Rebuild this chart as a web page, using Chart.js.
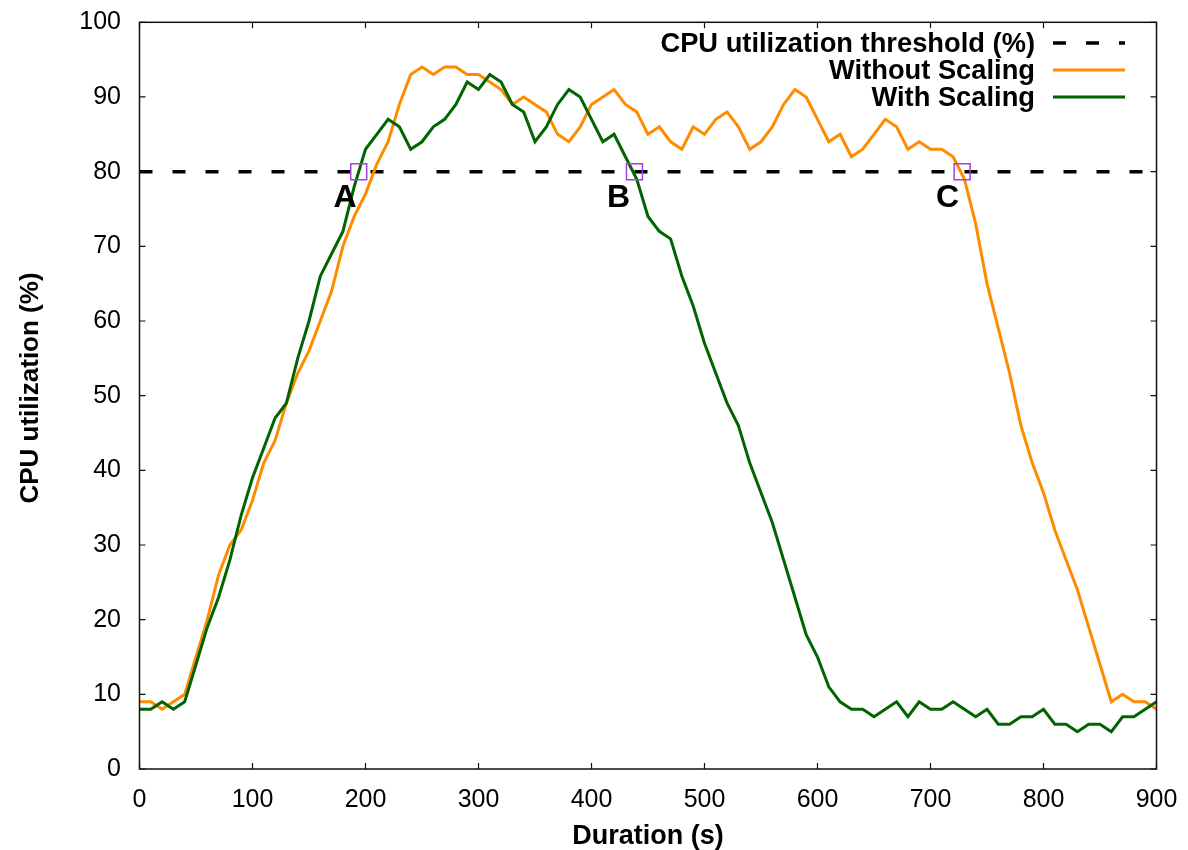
<!DOCTYPE html>
<html>
<head>
<meta charset="utf-8">
<title>CPU utilization</title>
<script src="https://cdn.jsdelivr.net/npm/chart.js@4.4.1/dist/chart.umd.min.js"></script>
<style>
  html, body { margin: 0; padding: 0; background: #fff; }
  canvas { display: block; }
</style>
</head>
<body>
<canvas id="cpuChart" width="1188" height="850"></canvas>
<script>
// sample times (s)
var durations = [0, 10, 20, 30, 40, 50, 60, 70, 80, 90,
    100, 110, 120, 130, 140, 150, 160, 170, 180, 190,
    200, 210, 220, 230, 240, 250, 260, 270, 280, 290,
    300, 310, 320, 330, 340, 350, 360, 370, 380, 390,
    400, 410, 420, 430, 440, 450, 460, 470, 480, 490,
    500, 510, 520, 530, 540, 550, 560, 570, 580, 590,
    600, 610, 620, 630, 640, 650, 660, 670, 680, 690,
    700, 710, 720, 730, 740, 750, 760, 770, 780, 790,
    800, 810, 820, 830, 840, 850, 860, 870, 880, 890, 900];

var withoutScaling = [9, 9, 8, 9, 10, 15, 20, 26, 30, 32,
    36, 41, 44, 49, 53, 56, 60, 64, 70, 74,
    77, 81, 84, 89, 93, 94, 93, 94, 94, 93,
    93, 92, 91, 89, 90, 89, 88, 85, 84, 86,
    89, 90, 91, 89, 88, 85, 86, 84, 83, 86,
    85, 87, 88, 86, 83, 84, 86, 89, 91, 90,
    87, 84, 85, 82, 83, 85, 87, 86, 83, 84,
    83, 83, 82, 79, 73, 65, 59, 53, 46, 41,
    37, 32, 28, 24, 19, 14, 9, 10, 9, 9, 8];

var withScaling = [8, 8, 9, 8, 9, 14, 19, 23, 28, 34,
    39, 43, 47, 49, 55, 60, 66, 69, 72, 78,
    83, 85, 87, 86, 83, 84, 86, 87, 89, 92,
    91, 93, 92, 89, 88, 84, 86, 89, 91, 90,
    87, 84, 85, 82, 79, 74, 72, 71, 66, 62,
    57, 53, 49, 46, 41, 37, 33, 28, 23, 18,
    15, 11, 9, 8, 8, 7, 8, 9, 7, 9,
    8, 8, 9, 8, 7, 8, 6, 6, 7, 7,
    8, 6, 6, 5, 6, 6, 5, 7, 7, 8, 9];

var threshold = 80;

// crossing points and their letters
var crossTimes = [194, 438, 728];
var crossLabels = ['A', 'B', 'C'];
var labelTimes = [182, 424, 715];
var labelValue = 76.4;

var xTicks = [0, 100, 200, 300, 400, 500, 600, 700, 800, 900];
var yTicks = [0, 10, 20, 30, 40, 50, 60, 70, 80, 90, 100];

var seriesNames = ['CPU utilization threshold (%)', 'Without Scaling', 'With Scaling'];
var colors = ['#000000', '#ff8c00', '#006400'];
var yTitle = 'CPU utilization (%)';

var FONT = '"Liberation Sans", Arial, Helvetica, sans-serif';

function toPoints(values) {
    return durations.map(function(t, i) { return { x: t, y: values[i] }; });
}

function noOverhang(scale) {
    scale.paddingTop = 0;
    scale.paddingBottom = 0;
    scale.paddingLeft = 0;
    scale.paddingRight = 0;
}

// frame, inward ticks, letters and legend like the gnuplot original
var overlay = {
    id: 'overlay',
    afterDatasetsDraw: function(chart) {
        var ctx = chart.ctx;
        var area = chart.chartArea;
        var xs = chart.scales.x;
        var ys = chart.scales.y;

        ctx.save();
        ctx.strokeStyle = '#111';
        ctx.lineWidth = 1.5;
        ctx.strokeRect(area.left, area.top, area.right - area.left, area.bottom - area.top);

        ctx.lineWidth = 1.2;
        ctx.beginPath();
        xTicks.forEach(function(t) {
            var px = xs.getPixelForValue(t);
            ctx.moveTo(px, area.bottom);
            ctx.lineTo(px, area.bottom - 6);
            ctx.moveTo(px, area.top);
            ctx.lineTo(px, area.top + 6);
        });
        yTicks.forEach(function(v) {
            var py = ys.getPixelForValue(v);
            ctx.moveTo(area.left, py);
            ctx.lineTo(area.left + 6, py);
            ctx.moveTo(area.right, py);
            ctx.lineTo(area.right - 6, py);
        });
        ctx.stroke();

        // letters A, B, C
        ctx.fillStyle = '#000';
        ctx.font = 'bold 32px ' + FONT;
        ctx.textAlign = 'center';
        ctx.textBaseline = 'middle';
        crossLabels.forEach(function(txt, i) {
            ctx.fillText(txt, xs.getPixelForValue(labelTimes[i]), ys.getPixelForValue(labelValue));
        });

        // y axis title, placed like gnuplot does
        ctx.save();
        ctx.translate(31, 388);
        ctx.rotate(-Math.PI / 2);
        ctx.font = 'bold 26px ' + FONT;
        ctx.fillText(yTitle, 0, 0);
        ctx.restore();

        // legend
        var textRight = 1035;
        var sampleLeft = 1053;
        var sampleRight = 1125;
        var rowY = [44, 71, 98];
        ctx.font = 'bold 27.3px ' + FONT;
        ctx.textAlign = 'right';
        seriesNames.forEach(function(name, i) {
            ctx.fillStyle = '#000';
            ctx.fillText(name, textRight, rowY[i]);
            ctx.beginPath();
            ctx.strokeStyle = colors[i];
            ctx.lineWidth = i === 0 ? 3.5 : 3;
            ctx.setLineDash(i === 0 ? [13, 20] : []);
            ctx.moveTo(sampleLeft, rowY[i] - 1);
            ctx.lineTo(sampleRight, rowY[i] - 1);
            ctx.stroke();
        });
        ctx.restore();
    }
};

var ctx = document.getElementById('cpuChart').getContext('2d');
var cpuChart = new Chart(ctx, {
    type: 'line',
    data: {
        datasets: [
            {
                label: seriesNames[0],
                data: [{ x: 0, y: threshold }, { x: 900, y: threshold }],
                borderColor: colors[0],
                borderWidth: 3.5,
                borderDash: [13, 20],
                pointRadius: 0,
                order: 4
            },
            {
                label: seriesNames[1],
                data: toPoints(withoutScaling),
                borderColor: colors[1],
                borderWidth: 3,
                pointRadius: 0,
                tension: 0,
                order: 3
            },
            {
                label: seriesNames[2],
                data: toPoints(withScaling),
                borderColor: colors[2],
                borderWidth: 3,
                pointRadius: 0,
                tension: 0,
                order: 2
            },
            {
                label: 'crossings',
                type: 'scatter',
                data: crossTimes.map(function(t) { return { x: t, y: threshold }; }),
                pointStyle: 'rect',
                pointRadius: 11.3,
                pointBorderWidth: 1.5,
                pointBorderColor: '#a040e0',
                pointBackgroundColor: 'rgba(0,0,0,0)',
                showLine: false,
                order: 1
            }
        ]
    },
    options: {
        responsive: false,
        animation: false,
        devicePixelRatio: 1,
        layout: { padding: { top: 22.3, right: 31.5, bottom: 0, left: 0 } },
        plugins: {
            legend: { display: false },
            tooltip: { enabled: false }
        },
        scales: {
            x: {
                type: 'linear',
                min: 0,
                max: 900,
                afterFit: function(scale) { scale.height = 81; noOverhang(scale); },
                afterBuildTicks: function(scale) {
                    scale.ticks = xTicks.map(function(v) { return { value: v }; });
                },
                grid: { display: false, drawTicks: false },
                border: { display: false },
                ticks: {
                    color: '#000',
                    padding: 16,
                    maxRotation: 0,
                    font: { family: FONT, size: 25 }
                },
                title: {
                    display: true,
                    text: 'Duration (s)',
                    color: '#000',
                    padding: { top: 0, bottom: 0 },
                    font: { family: FONT, size: 27, weight: 'bold', lineHeight: 1 }
                }
            },
            y: {
                min: 0,
                max: 100,
                afterFit: function(scale) { scale.width = 139.5; noOverhang(scale); },
                afterBuildTicks: function(scale) {
                    scale.ticks = yTicks.map(function(v) { return { value: v }; });
                },
                grid: { display: false, drawTicks: false },
                border: { display: false },
                ticks: {
                    color: '#000',
                    padding: 18.5,
                    font: { family: FONT, size: 25 }
                }
            }
        }
    },
    plugins: [overlay]
});
</script>
</body>
</html>
